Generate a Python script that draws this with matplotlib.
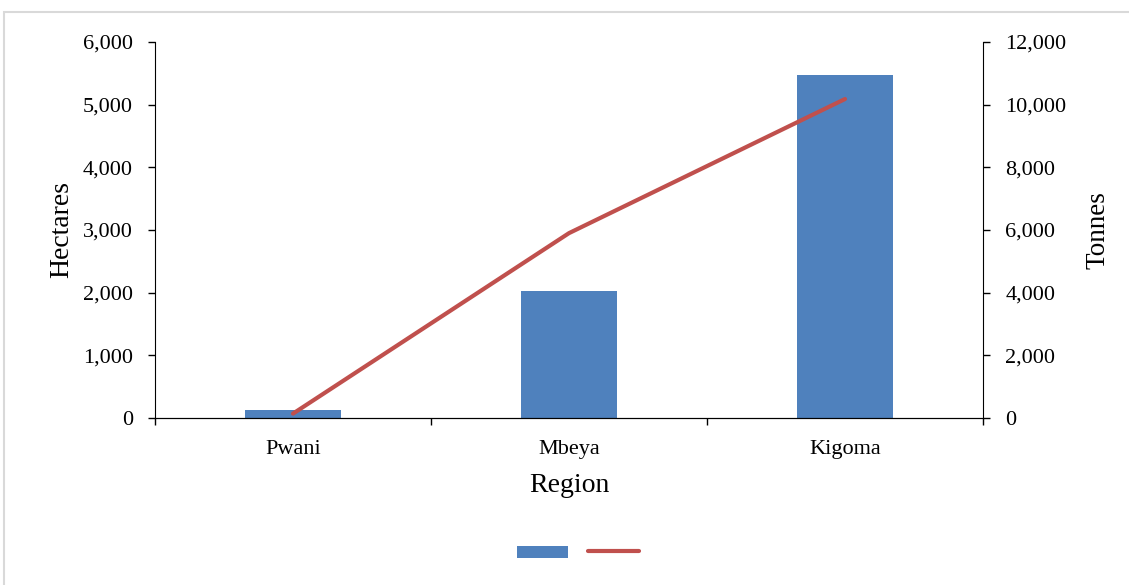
import matplotlib
matplotlib.use("Agg")
import matplotlib.pyplot as plt
from matplotlib.patches import Patch, Rectangle
from matplotlib.lines import Line2D
from matplotlib.ticker import FuncFormatter, MultipleLocator
import numpy as np

regions = ["Pwani", "Mbeya", "Kigoma"]
hectares = [130, 2020, 5480]
tonnes = [140, 5900, 10180]

blue = "#4F81BD"
red = "#C0504D"

plt.rcParams['font.family'] = ['Liberation Serif', 'DejaVu Serif']

fig = plt.figure(figsize=(11.29, 5.85), dpi=100)
fig.patches.append(Rectangle((4/1129, -0.1), 1.2, 1 - 12/585 + 0.1, transform=fig.transFigure,
                             fill=False, edgecolor="#d9d9d9", linewidth=1.5))

ax = fig.add_axes([155/1129, 1 - 418/585, 828/1129, 376/585])
x = np.arange(len(regions))
ax.bar(x, hectares, width=0.35, color=blue, zorder=2)
ax.set_xlim(-0.5, 2.5)
ax.set_ylim(0, 6000)
ax.yaxis.set_major_locator(MultipleLocator(1000))
fmt = FuncFormatter(lambda v, p: f"{int(v):,}")
ax.yaxis.set_major_formatter(fmt)
ax.set_xticks(x)
ax.set_xticklabels(regions)
ax.set_xticks([-0.5, 0.5, 1.5, 2.5], minor=True)
ax.tick_params(axis='x', which='major', length=0, labelsize=16, pad=16)
ax.tick_params(axis='x', which='minor', length=5, direction='out', width=1)
ax.tick_params(axis='y', length=5, width=1, labelsize=16, pad=11)
ax.spines['top'].set_visible(False)
ax.spines['right'].set_visible(False)
ax.set_ylabel("Hectares", fontsize=20, labelpad=6)
ax.set_xlabel("Region", fontsize=20, labelpad=10)

ax2 = ax.twinx()
ax2.plot(x, tonnes, color=red, linewidth=3, solid_capstyle='round', zorder=3)
ax2.set_ylim(0, 12000)
ax2.yaxis.set_major_locator(MultipleLocator(2000))
ax2.yaxis.set_major_formatter(fmt)
ax2.tick_params(axis='y', length=5, width=1, labelsize=16, pad=11)
ax2.spines['top'].set_visible(False)
ax2.spines['left'].set_visible(False)
ax2.set_ylabel("Tonnes", fontsize=19.5, labelpad=14)

handles = [Patch(facecolor=blue, edgecolor='none'),
           Line2D([0], [0], color=red, linewidth=3, solid_capstyle='round')]
fig.legend(handles, ["", ""], ncol=2, loc='center', bbox_to_anchor=(578/1129, 1 - 553/585),
           frameon=False, handlelength=3.7, handleheight=0.87, handletextpad=0,
           columnspacing=1.4, fontsize=10)

fig.savefig("out.png", dpi=100)
